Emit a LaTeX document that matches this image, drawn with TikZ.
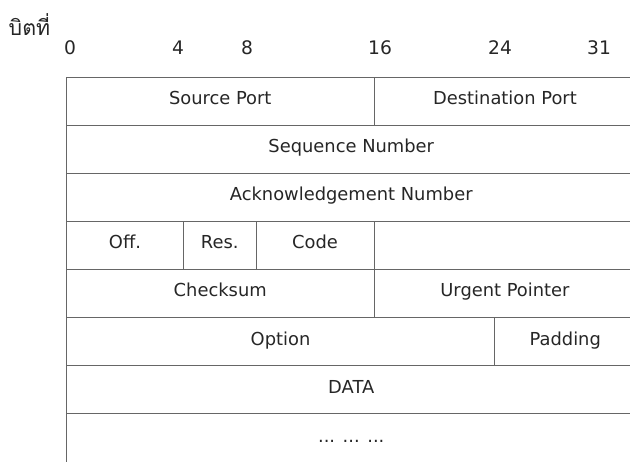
\documentclass[tikz,border=0pt]{standalone}
\usepackage{fontspec}
\setmainfont{DejaVu Sans}
\newfontfamily\thaifont[Script=Thai]{Loma}
\usetikzlibrary{positioning}

\tikzset{
  field/.style={draw=black!60, line width=0.6pt, outer sep=0pt, inner sep=0pt,
    minimum height=36.075pt, text=black!85, text height=0.73em, text depth=0.2em,
    font=\fontsize{13.4}{15}\selectfont},
  halfrow/.style={minimum width=230.6pt},
  restrow/.style={minimum width=196.5pt},
  fullrow/.style={minimum width=427.1pt},
  bitno/.style={text=black!85, font=\fontsize{14}{16}\selectfont},
}

\begin{document}
\begin{tikzpicture}[x=0.75pt, y=-0.75pt]
\useasboundingbox (0,0) rectangle (630,461);
\clip (0,0) rectangle (630,461);

\node [anchor=west, text=black!85, font=\thaifont\fontsize{16}{18}\selectfont] (bitlabel) at (4,25) {บิตที่};
\foreach \pos/\bit in {70/0, 178/4, 247/8, 380/16, 500/24, 599/31}
  \node [bitno] (bit\bit) at (\pos,48) {\bit};

% header rows
\node [field, halfrow, anchor=north west] (src) at (66.5,77) {Source Port};
\node [field, restrow, right=0pt of src] (dst) {Destination Port};
\node [field, fullrow, below right=0pt and 0pt of src.south west] (seq) {Sequence Number};
\node [field, fullrow, below=0pt of seq] (ack) {Acknowledgement Number};

\node [field, minimum width=87.75pt, below right=0pt and 0pt of ack.south west] (off) {Off.};
\node [field, minimum width=54.4pt, right=0pt of off] (res) {Res.};
\node [field, minimum width=88.5pt, right=0pt of res] (code) {Code};
\node [field, restrow, right=0pt of code] (window) {};

\node [field, halfrow, below right=0pt and 0pt of off.south west] (chk) {Checksum};
\node [field, restrow, right=0pt of chk] (urg) {Urgent Pointer};

\node [field, minimum width=321pt, below right=0pt and 0pt of chk.south west] (opt) {Option};
\node [field, minimum width=106.1pt, right=0pt of opt] (pad) {Padding};

\node [field, fullrow, below right=0pt and 0pt of opt.south west] (data) {DATA};
%last row runs off the page
\node [field, fullrow, minimum height=50pt, below=0pt of data] (more) {\raisebox{6pt}{... ... ...}};

\end{tikzpicture}
\end{document}
